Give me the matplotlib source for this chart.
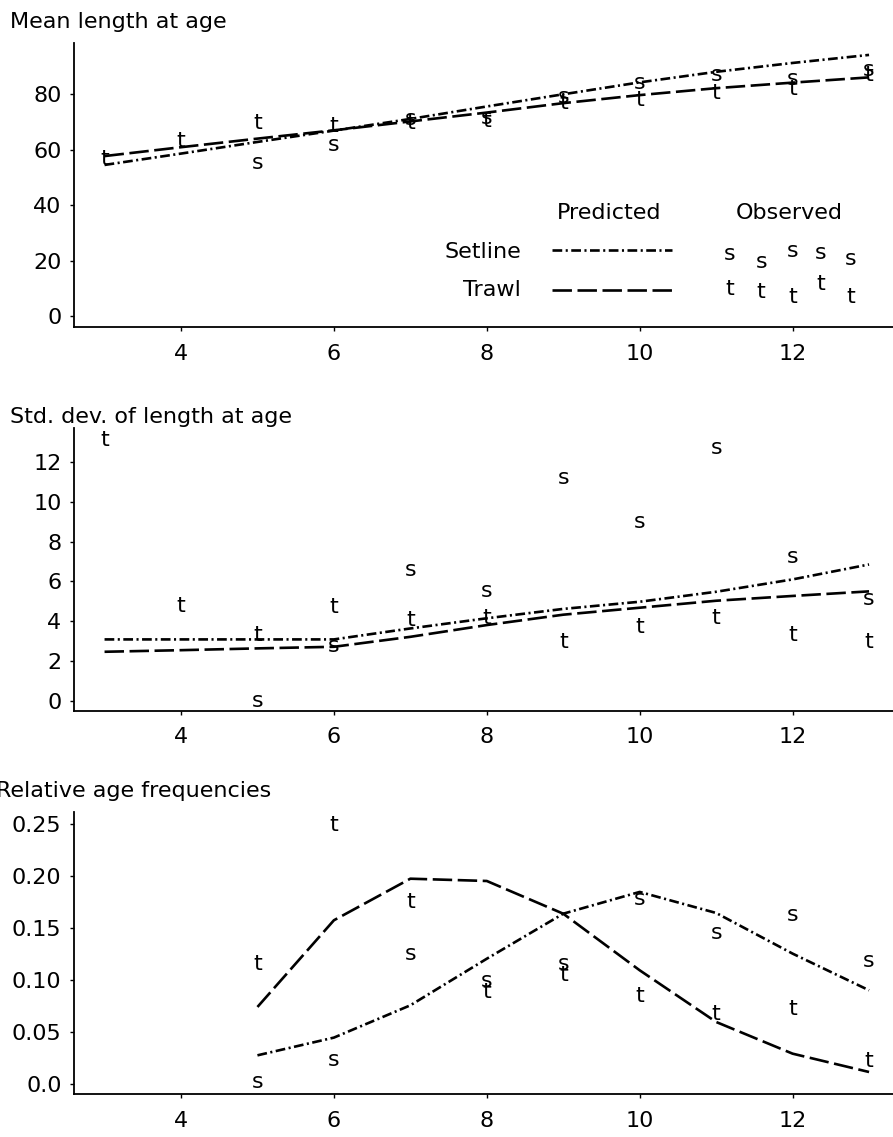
import numpy as np
import matplotlib
matplotlib.use("Agg")
import matplotlib.pyplot as plt

plt.rcParams['font.family'] = ['DejaVu Sans']
plt.rcParams['lines.scale_dashes'] = False

# Data ---------------------------------------------------------
ages = [3, 4, 5, 6, 7, 8, 9, 10, 11, 12, 13]
ages_freq = [5, 6, 7, 8, 9, 10, 11, 12, 13]
ages_obs_setline = [5, 6, 7, 8, 9, 10, 11, 12, 13]

# mean length at age
len_pred_setline = [54.5, 58.6, 62.8, 66.9, 71.1, 75.6, 80.0, 84.3, 88.1, 91.3, 94.2]
len_pred_trawl = [57.7, 60.9, 64.0, 67.0, 70.2, 73.4, 76.8, 79.7, 82.2, 84.2, 86.1]
len_obs_trawl = [56.5, 63.3, 69.8, 68.6, 69.8, 70.5, 76.8, 78.0, 80.6, 82.0, 87.0]
len_obs_setline = [55.1, 61.7, 71.0, 71.5, 79.1, 84.0, 87.0, 85.5, 88.8]

# std. dev. of length at age
sd_pred_setline = [3.09, 3.09, 3.09, 3.09, 3.64, 4.15, 4.62, 4.98, 5.48, 6.10, 6.85]
sd_pred_trawl = [2.47, 2.55, 2.64, 2.72, 3.22, 3.81, 4.33, 4.68, 5.03, 5.27, 5.50]
sd_obs_trawl = [13.09, 4.78, 3.30, 4.73, 4.06, 4.15, 2.97, 3.73, 4.15, 3.31, 2.97]
sd_obs_setline = [0.0, 2.76, 6.57, 5.53, 11.2, 8.99, 12.67, 7.2, 5.1]

# relative age frequencies
freq_pred_setline = [0.0278, 0.0448, 0.0758, 0.1205, 0.1637, 0.1846, 0.1644, 0.1254, 0.0902]
freq_pred_trawl = [0.0742, 0.1574, 0.1973, 0.1951, 0.1637, 0.1094, 0.0598, 0.0294, 0.0118]
freq_obs_setline = [0.0022, 0.0236, 0.1254, 0.0991, 0.1152, 0.178, 0.1452, 0.1622, 0.1183]
freq_obs_trawl = [0.1157, 0.2486, 0.175, 0.0886, 0.1046, 0.0845, 0.0678, 0.0726, 0.0224]

titles = ["Mean length at age", "Std. dev. of length at age", "Relative age frequencies"]
xticks = [4, 6, 8, 10, 12]
yticks_len = [0, 20, 40, 60, 80]
yticks_sd = [0, 2, 4, 6, 8, 10, 12]
yticks_freq = [0.0, 0.05, 0.10, 0.15, 0.20, 0.25]
ytick_labels_freq = ["0.0", "0.05", "0.10", "0.15", "0.20", "0.25"]

# legend jitter of the observed symbols (axes fraction)
leg_sym_x = [0.801, 0.839, 0.877, 0.912, 0.948]
leg_s_y = [0.257, 0.229, 0.268, 0.261, 0.239]
leg_t_y = [0.134, 0.123, 0.106, 0.151, 0.106]

# Style ----------------------------------------------------------
FS = 16
LW = 1.9
DASH_SET = (0, (7, 2.5, 1.5, 2.5))
DASH_TRAWL = (0, (14, 4))

fig = plt.figure(figsize=(8.93, 11.37), dpi=100)

W, H = 893.0, 1137.0
left_px, right_px = 74.0, 893.0
panels_px = [(43.0, 327.0), (428.3, 710.7), (812.0, 1094.3)]
ylims = [(-3.97, 98.5), (-0.486, 13.68), (-0.0096, 0.2613)]
title_base_px = [28.3, 423.3, 797.0]
title_x_px = [10.0, 10.0, -4.0]

# x = 4 at 181 px, 76.45 px per year
xlim = (4 + (left_px - 181) / 76.45, 4 + (right_px - 181) / 76.45)

axes = []
for (top, bot), yl in zip(panels_px, ylims):
    ax = fig.add_axes([left_px / W, 1 - bot / H, (right_px - left_px) / W, (bot - top) / H])
    ax.set_xlim(*xlim)
    ax.set_ylim(*yl)
    for sp in ['top', 'right']:
        ax.spines[sp].set_visible(False)
    for sp in ['left', 'bottom']:
        ax.spines[sp].set_linewidth(1.3)
    ax.set_xticks(xticks)
    ax.tick_params(axis='x', length=3, width=1, pad=9, labelsize=FS)
    ax.tick_params(axis='y', length=3, width=1, pad=6, labelsize=FS)
    axes.append(ax)

for t, tx, tb in zip(titles, title_x_px, title_base_px):
    fig.text(tx / W, 1 - tb / H, t, fontsize=FS, ha='left', va='baseline')


def symbols(ax, xs, ys, ch):
    for x, y in zip(xs, ys):
        ax.text(x, y, ch, fontsize=FS, ha='center', va='center', clip_on=False)


# Panel 1: mean length ------------------------------------------
ax = axes[0]
ax.plot(ages, len_pred_setline, color='black', lw=LW, linestyle=DASH_SET)
ax.plot(ages, len_pred_trawl, color='black', lw=LW, linestyle=DASH_TRAWL)
symbols(ax, ages, len_obs_trawl, 't')
symbols(ax, ages_obs_setline, len_obs_setline, 's')
ax.set_yticks(yticks_len)

# legend built by hand, like the original
ax.text(0.653, 0.401, "Predicted", transform=ax.transAxes, fontsize=FS, ha='center', va='center')
ax.text(0.8736, 0.401, "Observed", transform=ax.transAxes, fontsize=FS, ha='center', va='center')
ax.text(0.5458, 0.264, "Setline", transform=ax.transAxes, fontsize=FS, ha='right', va='center')
ax.text(0.5458, 0.130, "Trawl", transform=ax.transAxes, fontsize=FS, ha='right', va='center')
ax.plot([0.5836, 0.730], [0.271, 0.271], transform=ax.transAxes, color='black', lw=LW, linestyle=DASH_SET)
ax.plot([0.5836, 0.730], [0.130, 0.130], transform=ax.transAxes, color='black', lw=LW, linestyle=DASH_TRAWL)
for x, ys, yt in zip(leg_sym_x, leg_s_y, leg_t_y):
    ax.text(x, ys, 's', transform=ax.transAxes, fontsize=FS, ha='center', va='center')
    ax.text(x, yt, 't', transform=ax.transAxes, fontsize=FS, ha='center', va='center')

# Panel 2: std. dev. --------------------------------------------
ax = axes[1]
ax.plot(ages, sd_pred_setline, color='black', lw=LW, linestyle=DASH_SET)
ax.plot(ages, sd_pred_trawl, color='black', lw=LW, linestyle=DASH_TRAWL)
symbols(ax, ages, sd_obs_trawl, 't')
symbols(ax, ages_obs_setline, sd_obs_setline, 's')
ax.set_yticks(yticks_sd)

# Panel 3: relative frequencies ---------------------------------
ax = axes[2]
ax.plot(ages_freq, freq_pred_setline, color='black', lw=LW, linestyle=DASH_SET)
ax.plot(ages_freq, freq_pred_trawl, color='black', lw=LW, linestyle=DASH_TRAWL)
symbols(ax, ages_freq, freq_obs_trawl, 't')
symbols(ax, ages_freq, freq_obs_setline, 's')
ax.set_yticks(yticks_freq)
ax.set_yticklabels(ytick_labels_freq)

fig.savefig("out.png", dpi=100)
